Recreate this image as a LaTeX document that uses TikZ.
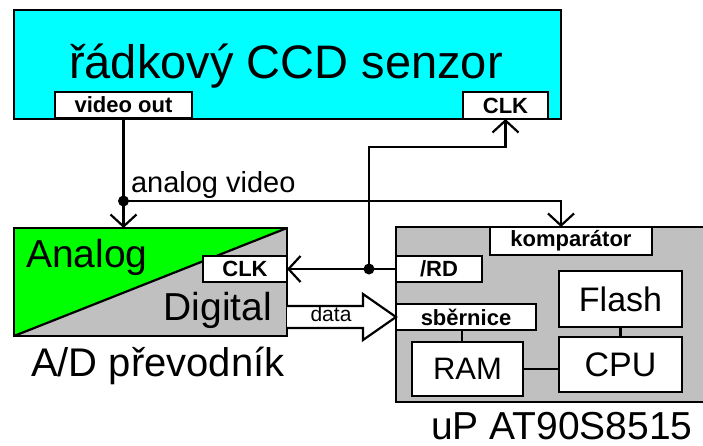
\documentclass[tikz,border=0pt]{standalone}
\usepackage{fontspec}
\setmainfont{Liberation Sans}
\usetikzlibrary{arrows.meta,calc}
\definecolor{ccdcyan}{RGB}{0,255,255}
\definecolor{adgreen}{RGB}{0,255,0}
\definecolor{chipgray}{RGB}{192,192,192}

\begin{document}
\begin{tikzpicture}[x=1pt,y=-1pt,
  every node/.style={outer sep=0pt, inner sep=0pt},
  frame/.style={draw, line width=2.2pt, anchor=north west, rectangle},
  pin/.style={frame, fill=white, font=\fontsize{22}{24}\selectfont\bfseries},
  block/.style={frame, fill=white, font=\fontsize{34}{36}\selectfont},
  wire/.style={line width=2.2pt},
  sig/.style={wire, -{Straight Barb[length=12pt,width=26pt]}},
  junction/.style={circle, fill=black, minimum size=11pt},
  caption/.style={font=\fontsize{#1}{#1}\selectfont},
]
\useasboundingbox (0,0) rectangle (703,445);

% line CCD sensor
\node[frame, fill=ccdcyan, minimum width=547pt, minimum height=109pt] (ccd) at (14,10) {};
\node[caption=47, anchor=base] (ccdtitle) at (286,78) {řádkový CCD senzor};
\node[pin, minimum width=137pt, minimum height=26pt] (vout) at (55,92) {video out};
\node[pin, minimum width=85pt, minimum height=27pt] (ccdclk) at (463,92) {CLK};

% A/D converter, split diagonally into analog and digital halves
\node[frame, fill=chipgray, minimum width=273pt, minimum height=108pt] (ad) at (14,228) {};
\fill[adgreen] (ad.north west) -- (ad.north east) -- (ad.south west) -- cycle;
\draw[wire] (ad.south west) -- (ad.north east);
\draw[wire] (ad.north west) rectangle (ad.south east);
\node[caption=39, anchor=base west] (analog) at (26,267) {Analog};
\node[caption=39, anchor=base east] (digital) at (272,320) {Digital};
\node[pin, minimum width=84pt, minimum height=26pt] (adclk) at (203,256) {CLK};
\node[caption=40, anchor=base west] (adname) at (31,376) {A/D převodník};

% microcontroller
\node[frame, fill=chipgray, minimum width=309pt, minimum height=175pt] (up) at (396,227) {};
\node[pin, minimum width=162pt, minimum height=28pt] (komp) at (490,227) {komparátor};
\node[pin, minimum width=86pt, minimum height=26pt] (rd) at (396,256) {/RD};
\node[pin, minimum width=140pt, minimum height=26pt] (bus) at (396,304) {sběrnice};
\node[block, minimum width=123pt, minimum height=56pt] (flash) at (559,271) {Flash};
\node[block, minimum width=123pt, minimum height=55pt] (cpu) at (559,337) {CPU};
\node[block, font=\fontsize{31}{33}\selectfont, minimum width=111pt, minimum height=54pt] (ram) at (412,342) {RAM};
\node[caption=39, anchor=base west] (upname) at (431,439) {uP AT90S8515};

% internal links
\draw[wire] ([xshift=-4pt]bus.south) -- ([xshift=-4pt]bus.south |- ram.north);
\draw[wire] (ram.east) -- (ram.east -| cpu.west);
\draw[wire] (flash.south) -- (cpu.north);

% analog video path
\node[junction] (vj) at ([yshift=-83pt]vout.south) {};
\draw[sig] (vout.south) -- (vout.south |- ad.north);
\draw[sig] (vj.center) -| (ccd.east |- komp.north);
\node[caption=29, anchor=base west] (avlabel) at (131,192) {analog video};

% read strobe used as clock
\node[junction] (cj) at ([xshift=-27pt]rd.west) {};
\coordinate (clkbend) at ([yshift=-28pt]ccdclk.south);
\draw[sig] (rd.west) -- (adclk.east);
\draw[sig] (cj.center) |- (clkbend) -- (ccdclk.south);

% data bus arrow
\coordinate (dbase) at (ad.east |- bus.west);
\coordinate (dtip) at (bus.west);
\draw[wire, fill=white, line join=miter]
  ($(dbase)+(0,-11)$) -- ($(dtip)+(-33,-11)$) -- ($(dtip)+(-33,-23)$) -- (dtip)
  -- ($(dtip)+(-33,23)$) -- ($(dtip)+(-33,11)$) -- ($(dbase)+(0,11)$);
\node[caption=21, anchor=base] (datalbl) at (331,321) {data};
\end{tikzpicture}
\end{document}
